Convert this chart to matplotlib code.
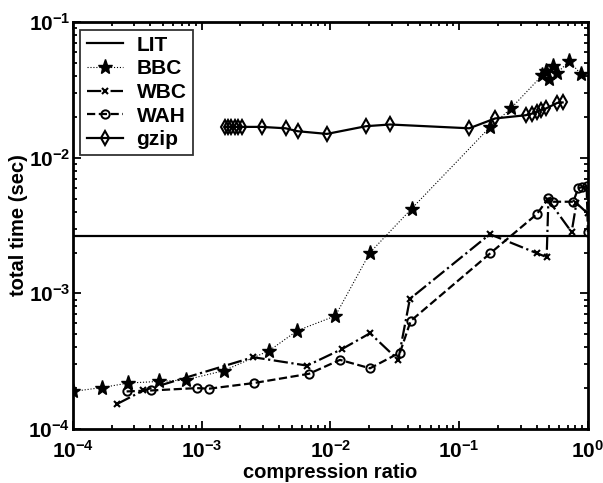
import matplotlib
matplotlib.use("Agg")
import matplotlib.pyplot as plt
from matplotlib.ticker import LogLocator, NullFormatter

plt.rcParams['font.family'] = ['Liberation Sans', 'DejaVu Sans']
plt.rcParams['font.weight'] = 'bold'
plt.rcParams['mathtext.default'] = 'bf'

lit_time = 2.66e-3

bbc_ratio = [1.0e-4, 1.69e-4, 2.69e-4, 4.68e-4, 7.5e-4, 1.49e-3, 3.35e-3, 5.53e-3,
             0.0109, 0.0203, 0.0428, 0.173, 0.252, 0.442, 0.472, 0.498, 0.537,
             0.578, 0.716, 0.883]
bbc_time = [1.89e-4, 2.02e-4, 2.18e-4, 2.24e-4, 2.30e-4, 2.69e-4, 3.78e-4, 5.31e-4,
            6.81e-4, 2.0e-3, 4.22e-3, 0.0168, 0.0231, 0.0406, 0.0437, 0.0379, 0.0476,
            0.0423, 0.0516, 0.0414]

wbc_ratio = [2.21e-4, 3.52e-4, 2.51e-3, 6.6e-3, 0.01235, 0.0203, 0.0336, 0.0414,
             0.173, 0.40, 0.478, 0.493, 0.747, 0.814, 0.995]
wbc_time = [1.53e-4, 1.92e-4, 3.38e-4, 2.93e-4, 3.89e-4, 5.08e-4, 3.23e-4, 9.1e-4,
            2.73e-3, 1.98e-3, 1.85e-3, 4.88e-3, 2.83e-3, 4.63e-3, 3.89e-3]

wah_ratio = [2.61e-4, 4.01e-4, 9.13e-4, 1.14e-3, 2.55e-3, 6.81e-3, 0.01186, 0.0203,
             0.0347, 0.042, 0.175, 0.402, 0.492, 0.537, 0.769, 0.841, 0.898, 0.977, 1.0]
wah_time = [1.89e-4, 1.92e-4, 2.0e-4, 1.98e-4, 2.18e-4, 2.55e-4, 3.23e-4, 2.8e-4,
            3.66e-4, 6.26e-4, 1.98e-3, 3.85e-3, 5.02e-3, 4.74e-3, 4.74e-3, 5.96e-3,
            6.08e-3, 6.18e-3, 2.83e-3]

gzip_ratio = [1.52e-3, 1.6e-3, 1.7e-3, 1.8e-3, 1.9e-3, 2.04e-3, 2.92e-3, 4.49e-3,
              5.56e-3, 9.39e-3, 0.0189, 0.029, 0.1197, 0.19, 0.328, 0.369, 0.40,
              0.43, 0.472, 0.578, 0.636]
gzip_time = [0.0169, 0.0169, 0.0169, 0.0169, 0.0169, 0.0169, 0.0169, 0.0165,
             0.0157, 0.0150, 0.0171, 0.0176, 0.0165, 0.0195, 0.0206, 0.0212, 0.0218,
             0.0225, 0.0231, 0.0254, 0.0256]

x_range = [1e-4, 1.0]

fig = plt.figure(figsize=(6.03, 4.83), dpi=100)
ax = fig.add_axes([0.121, 0.112, 0.854, 0.842])

ax.plot(x_range, [lit_time, lit_time], '-', color='black', lw=1.6, label='LIT')
ax.plot(bbc_ratio, bbc_time, ':', color='black', lw=0.8, marker='*',
        markersize=11, markerfacecolor='black', label='BBC')
ax.plot(wbc_ratio, wbc_time, '-.', color='black', lw=1.6, marker='x',
        markersize=4, markeredgewidth=1.5, label='WBC')
ax.plot(wah_ratio, wah_time, '--', color='black', lw=1.6, marker='o',
        markersize=6, markerfacecolor='none', markeredgewidth=1.4, label='WAH')
ax.plot(gzip_ratio, gzip_time, '-', color='black', lw=1.6, marker='d',
        markersize=7, markerfacecolor='none', markeredgewidth=1.5, label='gzip')

ax.set_xscale('log')
ax.set_yscale('log')
ax.set_xlim(1e-4, 1)
ax.set_ylim(1e-4, 1e-1)

for s in ax.spines.values():
    s.set_linewidth(2)

ax.tick_params(which='both', direction='in', top=True, right=True, width=1.3)
ax.tick_params(which='major', length=6, labelsize=15)
ax.tick_params(axis='x', which='major', pad=8)
ax.tick_params(axis='y', which='major', pad=2)
ax.tick_params(which='minor', length=3)
ax.xaxis.set_minor_locator(LogLocator(base=10, subs=range(2, 10)))
ax.yaxis.set_minor_locator(LogLocator(base=10, subs=range(2, 10)))
ax.xaxis.set_minor_formatter(NullFormatter())
ax.yaxis.set_minor_formatter(NullFormatter())

ax.set_xlabel('compression ratio', fontsize=14.5, fontweight='bold', labelpad=1)
ax.set_ylabel('total time (sec)', fontsize=14.5, fontweight='bold', labelpad=0)

leg = ax.legend(loc='upper left', fontsize=15, frameon=True, fancybox=False,
                edgecolor='black', handlelength=1.75, borderaxespad=0.35,
                labelspacing=0.22, borderpad=0.3, handletextpad=0.65)
leg.get_frame().set_linewidth(1.3)
for t in leg.get_texts():
    t.set_fontweight('bold')

fig.savefig('out.png', dpi=100)
